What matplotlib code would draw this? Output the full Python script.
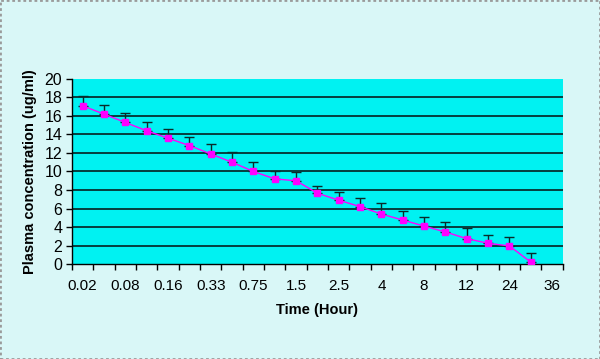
import numpy as np
import matplotlib
matplotlib.use('Agg')
from matplotlib import pyplot as plt
from matplotlib.patches import Rectangle

plt.rcParams['font.family'] = ['Liberation Sans', 'DejaVu Sans']

# Category labels (every other category is labelled on the axis)
time_labels = ['0.02', '', '0.08', '', '0.16', '', '0.33', '', '0.75', '', '1.5', '',
               '2.5', '', '4', '', '8', '', '12', '', '24', '', '36']

# Mean plasma concentration and upper error (SD)
conc = [17.1, 16.2, 15.3, 14.4, 13.6, 12.8, 11.9, 11.0, 10.0, 9.2, 9.0,
        7.65, 6.9, 6.2, 5.4, 4.75, 4.1, 3.46, 2.74, 2.24, 1.95, 0.2]
err = [1.06, 1.02, 1.0, 0.98, 1.03, 0.96, 1.07, 1.1, 1.03, 0.89, 0.95,
       0.83, 0.91, 0.96, 1.16, 1.01, 0.95, 1.11, 1.15, 0.93, 0.94, 1.02]

x = np.arange(len(conc))

fig = plt.figure(figsize=(6, 3.59), dpi=100, facecolor='#d9f7f7')
ax = fig.add_axes([0.12, 0.2646, 0.818, 0.5154])
ax.set_facecolor('#00f2f2')

# Grid lines
for g in range(2, 20, 2):
    ax.axhline(g, color='#062020', lw=1.2, zorder=1)

ax.errorbar(x, conc, yerr=[np.zeros(len(err)), err], fmt='none',
            ecolor='#0a2a2a', elinewidth=1, capsize=3.5, capthick=1, zorder=2)
ax.plot(x, conc, color='#ff00ff', lw=1, marker='s', markersize=4.5,
        markerfacecolor='#ff00ff', markeredgecolor='#ff00ff', zorder=3)

ax.set_xlim(-0.5, len(time_labels) - 0.5)
ax.set_ylim(0, 20)
ax.set_yticks(range(0, 21, 2))
ax.set_xticks(np.arange(len(time_labels)))
ax.set_xticklabels(time_labels)
ax.set_xticks(np.arange(len(time_labels) + 1) - 0.5, minor=True)
ax.tick_params(axis='x', which='major', length=0, pad=11, labelsize=11)
ax.tick_params(axis='x', which='minor', length=4, direction='out', width=1)
ax.tick_params(axis='y', length=4, direction='out', width=1, labelsize=11.5, pad=3)

for s in ['top', 'right']:
    ax.spines[s].set_visible(False)
ax.spines['left'].set_linewidth(1)
ax.spines['bottom'].set_linewidth(1)

ax.set_xlabel('Time (Hour)', fontweight='bold', fontsize=10.5, labelpad=7)
ax.set_ylabel('Plasma concentration (ug/ml)', fontweight='bold', fontsize=10.5, labelpad=5)

fig.patches.append(Rectangle((0, 0), 1, 1, transform=fig.transFigure, fill=False,
                             edgecolor='#9a9a9a', lw=2, linestyle=(0, (1, 1))))

fig.savefig('out.png', dpi=100, facecolor=fig.get_facecolor())
